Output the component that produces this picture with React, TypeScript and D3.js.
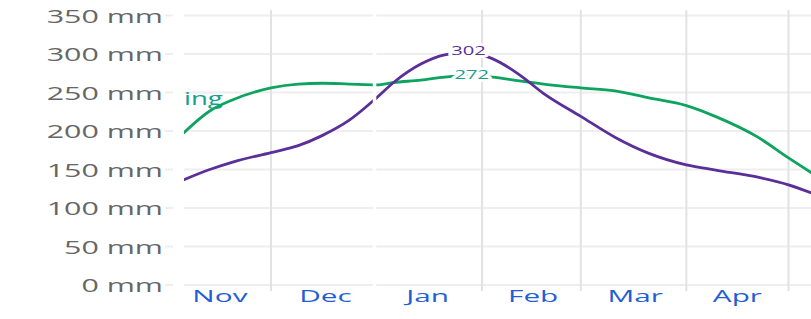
import React from "react";
import * as d3 from "d3";

const dates = [
  "2023-11-05", "2023-11-13", "2023-11-20", "2023-12-01", "2023-12-09", "2023-12-16",
  "2023-12-24", "2024-01-01", "2024-01-06", "2024-01-14", "2024-01-21", "2024-01-28",
  "2024-02-04", "2024-02-12", "2024-02-19", "2024-03-01", "2024-03-11", "2024-03-21",
  "2024-04-01", "2024-04-10", "2024-04-22", "2024-05-01", "2024-05-08",
];
const purpleValues = [136, 150, 160, 172, 181, 194, 214, 243, 263, 287, 299, 302, 294, 273, 249, 219, 192, 171, 156, 149, 140, 130, 119];
const greenValues = [196, 226, 241, 256, 261, 262, 261, 260, 263, 266, 270, 272, 270, 265, 261, 256, 252, 243, 233, 218, 192, 165, 145];
const yTicks = [0, 50, 100, 150, 200, 250, 300, 350];
const monthGrid = ["2023-12-01", "2024-02-01", "2024-03-01", "2024-04-01", "2024-05-01"];
const yearBreak = "2024-01-01";
const monthLabels = ["Nov", "Dec", "Jan", "Feb", "Mar", "Apr"];
const monthLabelDates = ["2023-11-16", "2023-12-17", "2024-01-16", "2024-02-16", "2024-03-17", "2024-04-16"];
const peakPurple = { date: "2024-01-28", value: 302 };
const peakGreen = { date: "2024-01-29", value: 272 };
const seriesLabelVisible = "ing";

const W = 811, H = 319;
const FONT = "'Open Sans', 'Noto Sans', sans-serif";
const PURPLE = "#5b2f99";
const GREEN = "#0ea35e";
const TEAL = "#14a08c";

const parse = (s: string) => new Date(s + "T00:00:00Z");

export default function App() {
  const x = d3.scaleUtc().domain([parse("2023-12-01"), parse("2024-05-01")]).range([271, 788.5]);
  const y = d3.scaleLinear().domain([0, 350]).range([285, 15.5]);
  const plotLeft = 184;

  const line = (vals: number[]) =>
    d3.line<number>()
      .x((_, i) => x(parse(dates[i])))
      .y((v) => y(v))
      .curve(d3.curveMonotoneX)(vals) || "";

  return (
    <svg width={W} height={H} style={{ position: "fixed", left: 0, top: 0, background: "#fff" }} fontFamily={FONT}>
      <defs>
        <clipPath id="plot">
          <rect x={plotLeft} y={0} width={W - plotLeft} height={H} />
        </clipPath>
      </defs>
      <rect x={0} y={0} width={W} height={H} fill="#fff" />
      {/* horizontal grid */}
      {yTicks.map((t) => (
        <g key={t}>
          <line x1={165} x2={173} y1={y(t)} y2={y(t)} stroke="#eeeeee" strokeWidth={2} />
          <line x1={plotLeft} x2={W} y1={y(t)} y2={y(t)} stroke="#eeeeee" strokeWidth={2} />
        </g>
      ))}
      {/* vertical grid */}
      {monthGrid.map((d) => (
        <line key={d} x1={x(parse(d))} x2={x(parse(d))} y1={10} y2={291} stroke="#e2e2e2" strokeWidth={2} />
      ))}
      {/* series label (partly hidden) */}
      <text
        transform={`translate(184,105) scale(1.45,1)`}
        textAnchor="start"
        fontSize={19}
        fill={TEAL}
      >
        {seriesLabelVisible}
      </text>
      {/* lines */}
      <g clipPath="url(#plot)">
        <path d={line(greenValues)} fill="none" stroke={GREEN} strokeWidth={2.8} />
        <path d={line(purpleValues)} fill="none" stroke={PURPLE} strokeWidth={2.8} />
      </g>
      {/* year break */}
      <line x1={x(parse(yearBreak)) - 2} x2={x(parse(yearBreak)) - 2} y1={10} y2={290} stroke="#fff" strokeWidth={3.5} />
      {/* peak labels */}
      <text
        transform={`translate(${x(parse(peakPurple.date))},${y(peakPurple.value) + 3}) scale(1.55,1)`}
        textAnchor="middle"
        fontSize={13}
        fill={PURPLE}
        stroke="#fff"
        strokeWidth={5}
        paintOrder="stroke"
        strokeLinejoin="round"
      >
        {peakPurple.value}
      </text>
      <text
        transform={`translate(${x(parse(peakGreen.date))},${y(peakGreen.value) + 3}) scale(1.55,1)`}
        textAnchor="middle"
        fontSize={13}
        fill={TEAL}
        stroke="#fff"
        strokeWidth={5}
        paintOrder="stroke"
        strokeLinejoin="round"
      >
        {peakGreen.value}
      </text>
      {/* y labels */}
      {yTicks.map((t) => (
        <text
          key={t}
          transform={`translate(163,${y(t) + 7}) scale(1.6,1)`}
          textAnchor="end"
          fontSize={19}
          fill="#666"
        >
          {`${t} mm`}
        </text>
      ))}
      {/* x labels */}
      {monthLabels.map((m, i) => (
        <text
          key={m}
          transform={`translate(${x(parse(monthLabelDates[i]))},302) scale(1.75,1)`}
          textAnchor="middle"
          fontSize={17}
          fill="#1f5ed4"
        >
          {m}
        </text>
      ))}
    </svg>
  );
}
